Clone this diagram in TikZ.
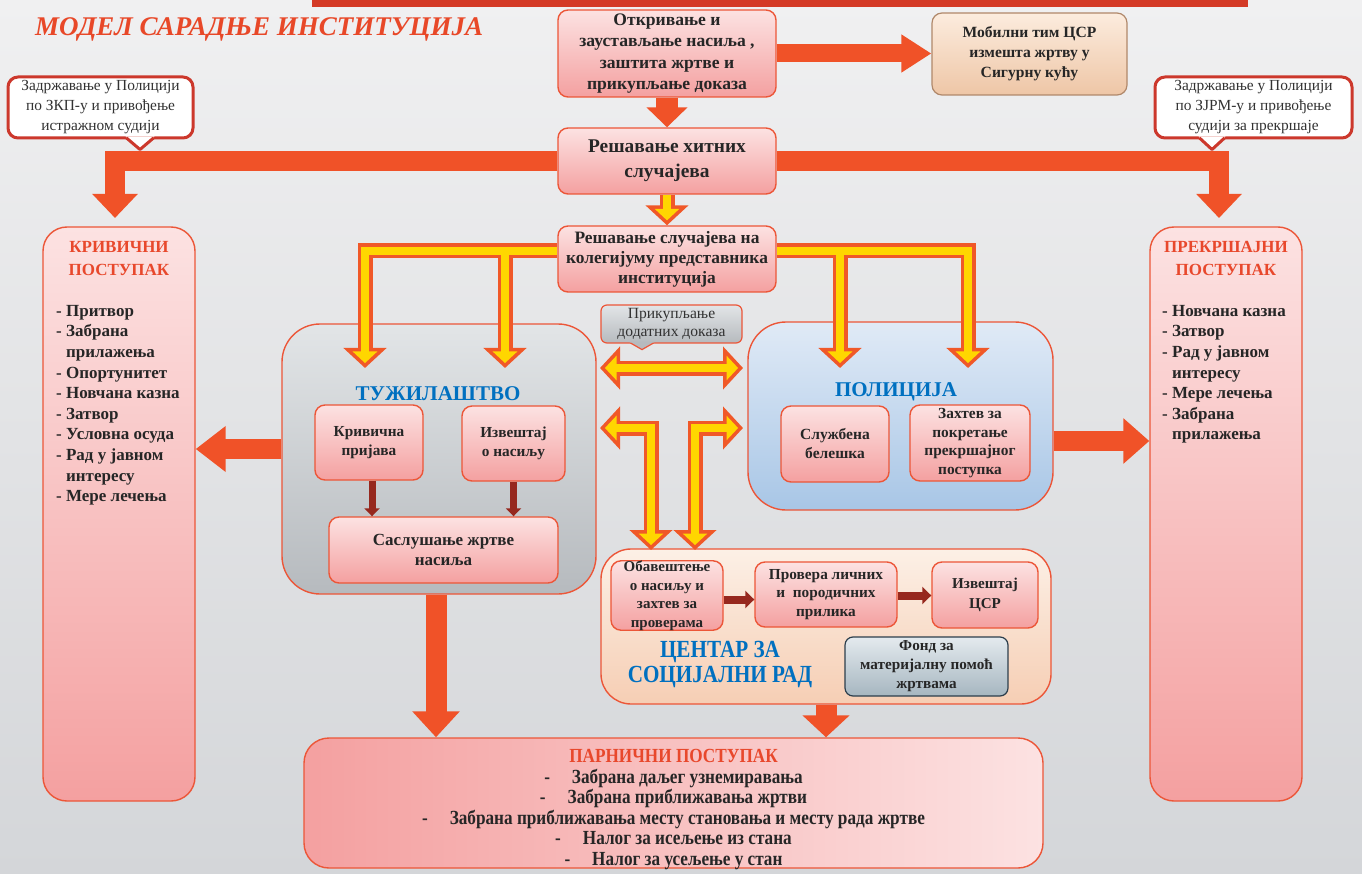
\documentclass[tikz,border=0pt]{standalone}
\usepackage{fontspec}
\setmainfont{Liberation Serif}
\newfontfamily\narrowfont[FakeStretch=0.86]{Liberation Serif}
\usetikzlibrary{arrows.meta,positioning}

\definecolor{bgtop}{RGB}{240,240,241}
\definecolor{bgbot}{RGB}{212,214,217}
\definecolor{barred}{RGB}{212,58,38}
\definecolor{titlered}{RGB}{232,72,40}
\definecolor{fatorange}{RGB}{240,82,40}
\definecolor{edgered}{RGB}{236,86,56}
\definecolor{pinktop}{RGB}{252,226,226}
\definecolor{pinkbot}{RGB}{244,160,160}
\definecolor{peachtop}{RGB}{252,236,222}
\definecolor{peachbot}{RGB}{238,198,166}
\definecolor{peachedge}{RGB}{176,136,106}
\definecolor{graytop}{RGB}{226,229,231}
\definecolor{graybot}{RGB}{182,186,190}
\definecolor{bluetop}{RGB}{224,234,246}
\definecolor{bluebot}{RGB}{168,198,230}
\definecolor{csrtop}{RGB}{252,240,230}
\definecolor{csrbot}{RGB}{246,206,180}
\definecolor{fondtop}{RGB}{228,234,238}
\definecolor{fondbot}{RGB}{166,182,192}
\definecolor{fondedge}{RGB}{44,62,76}
\definecolor{instblue}{RGB}{0,112,192}
\definecolor{headred}{RGB}{232,72,44}
\definecolor{darkarrow}{RGB}{150,40,30}
\definecolor{yelfill}{RGB}{255,214,0}
\definecolor{yeledge}{RGB}{240,88,40}
\definecolor{callred}{RGB}{204,56,44}
\definecolor{txt}{RGB}{38,38,38}

\tikzset{
  pinkbox/.style={draw=edgered, line width=1.4pt, rounded corners=10pt, top color=pinktop, bottom color=pinkbot, align=center, text=txt, inner sep=0pt},
  peachbox/.style={draw=peachedge, line width=1.2pt, rounded corners=10pt, top color=peachtop, bottom color=peachbot, align=center, text=txt, inner sep=0pt},
  sidebox/.style={draw=edgered, line width=1.4pt, rounded corners=24pt, top color=pinktop, bottom color=pinkbot, minimum width=152pt, minimum height=574pt},
  instbox/.style={draw=edgered, line width=1.4pt, rounded corners=38pt},
  calloutbox/.style={draw=callred, line width=3pt, rounded corners=10pt, fill=white, align=center, text={rgb,255:red,50;green,50;blue,50}, inner sep=0pt, minimum height=61pt, font=\fontsize{15.4}{20}\selectfont},
  heading/.style={align=center, text=headred, font=\bfseries\fontsize{17}{22.5}\selectfont},
  itemlist/.style={align=left, text=txt, anchor=north west, inner sep=0pt, font=\bfseries\fontsize{17}{20.6}\selectfont},
  insttitle/.style={text=instblue, font=\bfseries\fontsize{21}{24}\selectfont},
  fat/.style={draw=fatorange, line width=20pt, line join=miter, -{Triangle[width=44pt,length=24pt]}},
  dark/.style={draw=darkarrow, line width=7pt, -{Triangle[width=15pt,length=8pt]}},
  yout/.style={draw=yeledge, line width=15pt, line join=miter, -{Triangle[width=42pt,length=20pt]}},
  yin/.style={draw=yelfill, line width=8pt, line join=miter, shorten >=4.9pt, -{Triangle[width=24pt,length=11.6pt]}},
  youtboth/.style={yout, {Triangle[width=42pt,length=20pt]}-{Triangle[width=42pt,length=20pt]}},
  yinboth/.style={yin, shorten <=4.9pt, {Triangle[width=24pt,length=11.6pt]}-{Triangle[width=24pt,length=11.6pt]}}
}

\begin{document}
\begin{tikzpicture}[x=1pt,y=-1pt]
\useasboundingbox (0,0) rectangle (1362,874);
\shade[top color=bgtop, bottom color=bgbot] (0,0) rectangle (1362,874);
\fill[barred] (312,0) rectangle (1248,7);
\node[anchor=base west, inner sep=0pt, text=titlered, font=\bfseries\itshape\fontsize{27}{30}\selectfont] (title) at (35,36) {МОДЕЛ САРАДЊЕ ИНСТИТУЦИЈА};

% top row
\node[pinkbox, minimum width=218pt, minimum height=87pt, font=\bfseries\fontsize{17.6}{21.3}\selectfont] (detect) at (667,53.5) {Откривање и\\заустављање насиља ,\\заштита жртве и\\прикупљање доказа};
\node[peachbox, minimum width=195pt, minimum height=82pt, font=\bfseries\fontsize{15.6}{20}\selectfont] (mobile) at (1029.5,54) {Мобилни тим ЦСР\\измешта жртву у\\Сигурну кућу};
\node[pinkbox, minimum width=218pt, minimum height=66pt, font=\bfseries\fontsize{19.4}{25}\selectfont] (urgent) at (667,161) {Решавање хитних\\случајева};
\node[pinkbox, minimum width=218pt, minimum height=66pt, font=\bfseries\fontsize{17.4}{20}\selectfont] (board) at (667,259) {Решавање случајева на\\колегијуму представника\\институција};

\node[calloutbox, minimum width=185pt] (zkp) at (100.5,107.5) {Задржавање у Полицији\\по ЗКП-у и привођење\\истражном судији};
\node[calloutbox, minimum width=197pt] (zjrm) at (1253.5,107.5) {Задржавање у Полицији\\по ЗЈРМ-у и привођење\\судији за прекршаје};
\fill[white] ([xshift=25pt,yshift=3.2pt]zkp.south) -- ([xshift=39.5pt,yshift=-10pt]zkp.south) -- ([xshift=54pt,yshift=3.2pt]zkp.south) -- cycle;
\draw[callred, line width=3pt, line join=round] ([xshift=26pt,yshift=1.5pt]zkp.south) -- ([xshift=39.5pt,yshift=-10pt]zkp.south) -- ([xshift=53pt,yshift=1.5pt]zkp.south);
\fill[white] ([xshift=-55pt,yshift=3.2pt]zjrm.south) -- ([xshift=-41.5pt,yshift=-10pt]zjrm.south) -- ([xshift=-28pt,yshift=3.2pt]zjrm.south) -- cycle;
\draw[callred, line width=3pt, line join=round] ([xshift=-54pt,yshift=1.5pt]zjrm.south) -- ([xshift=-41.5pt,yshift=-10pt]zjrm.south) -- ([xshift=-29pt,yshift=1.5pt]zjrm.south);

% side columns
\node[sidebox] (crim) at (119,514) {};
\node[heading] (crimhead) at (119,258.5) {КРИВИЧНИ\\ПОСТУПАК};
\node[itemlist] (crimlist) at (56,305) {- Притвор\\- Забрана\\\phantom{- }прилажења\\- Опортунитет\\- Новчана казна\\- Затвор\\- Условна осуда\\- Рад у јавном\\\phantom{- }интересу\\- Мере лечења};
\node[sidebox] (minor) at (1226,514) {};
\node[heading] (minorhead) at (1226,258.5) {ПРЕКРШАЈНИ\\ПОСТУПАК};
\node[itemlist] (minorlist) at (1162,305) {- Новчана казна\\- Затвор\\- Рад у јавном\\\phantom{- }интересу\\- Мере лечења\\- Забрана\\\phantom{- }прилажења};

% prosecution
\node[instbox, top color=graytop, bottom color=graybot, minimum width=314pt, minimum height=270pt] (pros) at (439,459) {};
\node[insttitle] (prostitle) at (438,394) {ТУЖИЛАШТВО};
\node[pinkbox, minimum width=108pt, minimum height=75pt, font=\bfseries\fontsize{15.3}{19}\selectfont] (charge) at (369,442.5) {Кривична\\пријава};
\node[pinkbox, minimum width=103pt, minimum height=75pt, font=\bfseries\fontsize{15.3}{19}\selectfont] (report) at (513.5,443.5) {Извештај\\о насиљу};
\node[pinkbox, minimum width=229pt, minimum height=66pt, font=\bfseries\fontsize{17}{20.5}\selectfont] (hearing) at (443.5,550) {Саслушање жртве\\насиља};

% police
\node[instbox, top color=bluetop, bottom color=bluebot, minimum width=305pt, minimum height=188pt] (police) at (900.5,416) {};
\node[insttitle] (policetitle) at (896,392) {ПОЛИЦИЈА};
\node[pinkbox, minimum width=108pt, minimum height=76pt, font=\bfseries\fontsize{15.5}{19}\selectfont] (note) at (835,444) {Службена\\белешка};
\node[pinkbox, minimum width=120pt, minimum height=76pt, font=\bfseries\fontsize{15.4}{18.7}\selectfont] (request) at (970,443) {Захтев за\\покретање\\прекршајног\\поступка};

\node[draw=edgered, line width=1.2pt, rounded corners=6pt, top color=graytop, bottom color=graybot, minimum width=141pt, minimum height=38pt, inner sep=0pt, align=center, text={rgb,255:red,50;green,50;blue,50}, font=\fontsize{15.6}{18}\selectfont] (evidence) at (671.5,324) {Прикупљање\\додатних доказа};
\fill[graybot] ([xshift=-42pt,yshift=1.6pt]evidence.south) -- ([xshift=-29.5pt,yshift=-6pt]evidence.south) -- ([xshift=-17pt,yshift=1.6pt]evidence.south) -- cycle;
\draw[edgered, line width=1.2pt] ([xshift=-41pt,yshift=0.6pt]evidence.south) -- ([xshift=-29.5pt,yshift=-6pt]evidence.south) -- ([xshift=-18pt,yshift=0.6pt]evidence.south);

% social work centre
\node[instbox, rounded corners=30pt, top color=csrtop, bottom color=csrbot, minimum width=450pt, minimum height=155pt] (csr) at (826,626.5) {};
\node[text=instblue, align=center, font=\narrowfont\bfseries\fontsize{24.6}{25}\selectfont] (csrtitle) at (720,664) {ЦЕНТАР ЗА\\СОЦИЈАЛНИ РАД};
\node[pinkbox, minimum width=112pt, minimum height=65pt, font=\bfseries\fontsize{15}{18.5}\selectfont] (notice) at (667,595.5) {Обавештење\\о насиљу и\\захтев за\\проверама};
\node[pinkbox, minimum width=142pt, minimum height=65pt, font=\bfseries\fontsize{15.3}{18.5}\selectfont] (check) at (826,594.5) {Провера личних\\и \ породичних\\прилика};
\node[pinkbox, minimum width=106pt, minimum height=66pt, font=\bfseries\fontsize{15.1}{19.5}\selectfont] (csrrep) at (985,595) {Извештај\\ЦСР};
\node[draw=fondedge, line width=1.2pt, rounded corners=8pt, top color=fondtop, bottom color=fondbot, minimum width=163pt, minimum height=59pt, inner sep=0pt, align=center, text=txt, font=\bfseries\fontsize{15.2}{19}\selectfont] (fund) at (926.5,666.5) {Фонд за\\материјалну помоћ\\жртвама};

% civil procedure
\node[draw=edgered, line width=1.4pt, rounded corners=25pt, left color=pinkbot, right color=pinktop, minimum width=739pt, minimum height=130pt] (civil) at (673.5,803) {};
\node[align=center, text=txt, font=\narrowfont\bfseries\fontsize{20}{20.5}\selectfont] (civiltext) at (673.5,809.5) {\textcolor{headred}{ПАРНИЧНИ ПОСТУПАК}\\-\hspace{1.1em}Забрана даљег узнемиравања\\-\hspace{1.1em}Забрана приближавања жртви\\-\hspace{1.1em}Забрана приближавања месту становања и месту рада жртве\\-\hspace{1.1em}Налог за исељење из стана\\-\hspace{1.1em}Налог за усељење у стан};

% orange arrows
\coordinate (crimtip) at (115,218);
\coordinate (minortip) at (1219,218);
\draw[fat, line width=18pt, -{Triangle[width=36pt,length=30pt]}] (detect.east) -- (detect.east -| mobile.west);
\draw[fat, line width=22pt, -{Triangle[width=40pt,length=20pt]}] (detect.south) -- (urgent.north);
\draw[fat] (urgent.west) -| (crimtip);
\draw[fat] (urgent.east) -| (minortip);
\draw[fat, -{Triangle[width=44pt,length=30pt]}] ([yshift=10pt]pros.west) -- ([yshift=10pt]pros.west -| crim.east);
\draw[fat, -{Triangle[width=44pt,length=26pt]}] ([yshift=-25pt]police.east) -- ([yshift=-25pt]police.east -| minor.west);
\draw[fat, line width=21pt, -{Triangle[width=46pt,length=26pt]}] ([xshift=-3pt]pros.south) -- ([xshift=-3pt]pros.south |- civil.north);
\draw[fat, line width=21pt, -{Triangle[width=46pt,length=22pt]}] (csr.south) -- (csr.south |- civil.north);

% dark arrows
\draw[dark] ([xshift=3pt]charge.south) -- ([xshift=3pt]charge.south |- hearing.north);
\draw[dark] (report.south) -- (report.south |- hearing.north);
\draw[dark, line width=8pt, -{Triangle[width=17pt,length=9pt]}] ([yshift=-4pt]notice.east) -- ([yshift=-4pt]notice.east -| check.west);
\draw[dark, line width=8pt, -{Triangle[width=17pt,length=9pt]}] ([yshift=-1pt]check.east) -- ([yshift=-1pt]check.east -| csrrep.west);

% yellow arrows
\coordinate (boardW) at ([yshift=8pt]board.west);
\coordinate (boardE) at ([yshift=8pt]board.east);
\coordinate (prosA) at (365,368);
\coordinate (prosB) at (505,368);
\coordinate (polA) at (840,368);
\coordinate (polB) at (968,368);
\coordinate (linkL) at (600,368);
\coordinate (linkR) at (743,368);
\coordinate (leftEnd) at (600,428);
\coordinate (leftDown) at (651,550);
\coordinate (rightEnd) at (743,428);
\coordinate (rightDown) at (695,550);
\foreach \s/\d in {yout/youtboth,yin/yinboth}{
  \draw[\s] (urgent.south) -- (board.north);
  \draw[\s] (boardW) -| (prosA);
  \draw[\s] (boardW -| prosB) -- (prosB);
  \draw[\s] (boardE) -| (polB);
  \draw[\s] (boardE -| polA) -- (polA);
  \draw[\d] (linkL) -- (linkR);
  \draw[\d] (leftEnd) -| (leftDown);
  \draw[\d] (rightEnd) -| (rightDown);
}
\end{tikzpicture}
\end{document}
